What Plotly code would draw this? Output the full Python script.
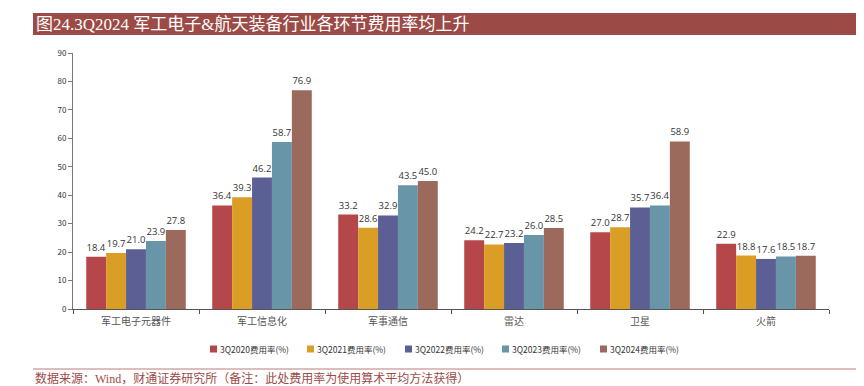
import plotly.graph_objects as go

categories = ["军工电子元器件", "军工信息化", "军事通信", "雷达", "卫星", "火箭"]
series_names = ["3Q2020费用率(%)", "3Q2021费用率(%)", "3Q2022费用率(%)", "3Q2023费用率(%)", "3Q2024费用率(%)"]
v2020 = [18.4, 36.4, 33.2, 24.2, 27.0, 22.9]
v2021 = [19.7, 39.3, 28.6, 22.7, 28.7, 18.8]
v2022 = [21.0, 46.2, 32.9, 23.2, 35.7, 17.6]
v2023 = [23.9, 58.7, 43.5, 26.0, 36.4, 18.5]
v2024 = [27.8, 76.9, 45.0, 28.5, 58.9, 18.7]
colors = ["#B5474A", "#DA9D26", "#5B5F94", "#6895A8", "#9C6A5C"]

OFF = 8  # page body margin
W, H = 864 - OFF, 386 - OFF
# reference pixel positions of plot area
L_ref, R_ref, T_ref, B_ref = 73, 829, 53, 309
L, T = L_ref - OFF, T_ref - OFF
R = W - (R_ref - OFF)
B = H - (B_ref - OFF)
pw, ph = W - L - R, H - T - B

def px_x(px):
    return (px - OFF - L) / pw

def px_y(py):
    return (H - B - (py - OFF)) / ph

fig = go.Figure()
for name, vals, c in zip(series_names, [v2020, v2021, v2022, v2023, v2024], colors):
    fig.add_trace(go.Bar(
        x=categories, y=vals, name=name, marker=dict(color=c, line=dict(width=0)),
        text=[f"{v:.1f}" for v in vals], textposition="outside",
        textfont=dict(size=9.5, color="#333333", family="Open Sans, Arial"),
        constraintext="none", cliponaxis=False, showlegend=False,
    ))

fig.update_layout(
    width=W, height=H, barmode="group", bargap=0.21, bargroupgap=0,
    margin=dict(l=L, r=R, t=T, b=B, autoexpand=False),
    paper_bgcolor="white", plot_bgcolor="white",
    font=dict(family="Noto Sans CJK SC", size=9, color="#333333"),
    showlegend=False,
)
fig.update_yaxes(range=[0, 90], dtick=10, showgrid=False, showline=True, linecolor="#777777",
                 linewidth=1, ticks="outside", ticklen=4, tickcolor="#777777",
                 tickfont=dict(size=8, color="#333333"), zeroline=False)
fig.update_xaxes(showgrid=False, showline=True, linecolor="#555555", linewidth=1,
                 ticks="outside", ticklen=4, tickcolor="#555555", tickson="boundaries",
                 ticklabelstandoff=3,
                 tickfont=dict(size=10, color="#555555", family="Noto Sans CJK SC"))

# Custom legend (layout decoration)
leg_x = [210, 307, 405, 502, 600]
leg_y = 349
for lx, name, c in zip(leg_x, series_names, colors):
    fig.add_shape(type="rect", xref="paper", yref="paper",
                  x0=px_x(lx), x1=px_x(lx + 7), y0=px_y(leg_y + 3.5), y1=px_y(leg_y - 3.5),
                  fillcolor=c, line=dict(width=0))
    fig.add_annotation(xref="paper", yref="paper", x=px_x(lx + 7.5), y=px_y(leg_y),
                       xanchor="left", yanchor="middle", showarrow=False, text=name,
                       font=dict(size=8.5, color="#333333", family="Noto Sans CJK SC"))

# Title bar
fig.add_shape(type="rect", xref="paper", yref="paper",
              x0=px_x(33), x1=px_x(856), y0=px_y(35), y1=px_y(13),
              fillcolor="#9C4A46", line=dict(width=0), layer="above")
fig.add_annotation(xref="paper", yref="paper", x=px_x(34), y=px_y(24),
                   xanchor="left", yanchor="middle", showarrow=False,
                   text="图24.3Q2024 军工电子&航天装备行业各环节费用率均上升",
                   font=dict(family="Liberation Serif, Noto Sans CJK SC", size=17, color="white"))
# Bottom line and source
fig.add_shape(type="line", xref="paper", yref="paper",
              x0=px_x(33), x1=px_x(856), y0=px_y(369), y1=px_y(369),
              line=dict(color="#B87C7A", width=1))
fig.add_annotation(xref="paper", yref="paper", x=px_x(33), y=px_y(378.5),
                   xanchor="left", yanchor="middle", showarrow=False,
                   text="数据来源：Wind，财通证券研究所（备注：此处费用率为使用算术平均方法获得）",
                   font=dict(family="Liberation Serif, Noto Sans CJK SC", size=12, color="#9C4A46"))

fig.write_html("out.html")
